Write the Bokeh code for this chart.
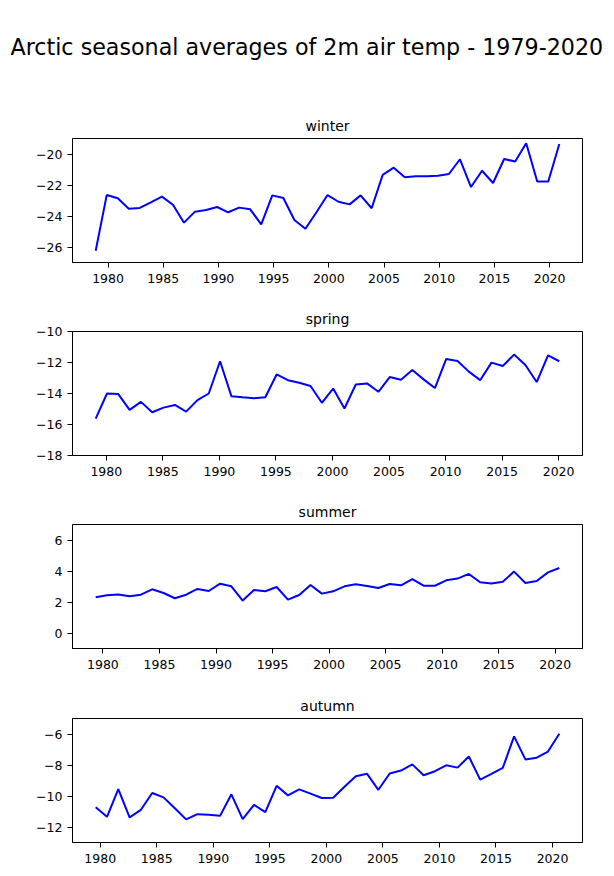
from bokeh.plotting import figure
from bokeh.layouts import column
from bokeh.models import Range1d, FixedTicker
from bokeh.embed import file_html
from bokeh.resources import INLINE

# ---------------- data ----------------
suptitle = "Arctic seasonal averages of 2m air temp - 1979-2020"
season_names = ["winter", "spring", "summer", "autumn"]

winter_years = list(range(1979, 2022))
spring_years = list(range(1979, 2021))
summer_years = list(range(1979, 2021))
autumn_years = list(range(1979, 2021))

# position of each seasonal mean within its year (fraction of year)
season_offsets = [-0.12, 0.06, 0.36, 0.6]

winter_vals = [-26.24, -22.65, -22.86, -23.53, -23.48, -23.12, -22.75, -23.27, -24.43, -23.72,
               -23.61, -23.42, -23.76, -23.46, -23.57, -24.54, -22.67, -22.84, -24.26, -24.82,
               -23.76, -22.65, -23.08, -23.25, -22.67, -23.50, -21.35, -20.88, -21.50, -21.44,
               -21.44, -21.40, -21.29, -20.34, -22.13, -21.08, -21.87, -20.32, -20.49, -19.31,
               -21.78, -21.78, -19.35]
spring_vals = [-15.62, -14.00, -14.04, -15.06, -14.54, -15.21, -14.91, -14.74, -15.17, -14.43,
               -14.00, -11.92, -14.17, -14.24, -14.30, -14.24, -12.77, -13.14, -13.31, -13.52,
               -14.60, -13.68, -14.97, -13.42, -13.35, -13.89, -12.94, -13.11, -12.49, -13.09,
               -13.65, -11.77, -11.90, -12.59, -13.14, -12.01, -12.23, -11.49, -12.16, -13.26,
               -11.54, -11.92]
summer_vals = [2.30, 2.43, 2.49, 2.37, 2.47, 2.82, 2.58, 2.24, 2.47, 2.84,
               2.71, 3.18, 3.01, 2.09, 2.77, 2.69, 2.97, 2.15, 2.45, 3.10,
               2.54, 2.69, 3.01, 3.14, 3.03, 2.90, 3.16, 3.08, 3.48, 3.05,
               3.05, 3.40, 3.51, 3.81, 3.27, 3.20, 3.31, 3.96, 3.23, 3.35,
               3.91, 4.19]
autumn_vals = [-10.72, -11.34, -9.55, -11.38, -10.89, -9.81, -10.09, -10.79, -11.51, -11.17,
               -11.21, -11.28, -9.89, -11.49, -10.57, -11.04, -9.34, -9.96, -9.57, -9.85,
               -10.13, -10.11, -9.40, -8.72, -8.57, -9.60, -8.55, -8.36, -7.96, -8.66,
               -8.40, -8.02, -8.17, -7.45, -8.94, -8.57, -8.19, -6.15, -7.64, -7.53,
               -7.13, -5.98]

x_ticks = [1980, 1985, 1990, 1995, 2000, 2005, 2010, 2015, 2020]
y_limits = [(-27, -19), (-18, -10), (-1, 7), (-13, -5)]
y_ticks = [[-26, -24, -22, -20], [-18, -16, -14, -12, -10], [0, 2, 4, 6], [-12, -10, -8, -6]]

years_all = [winter_years, spring_years, summer_years, autumn_years]
vals_all = [winter_vals, spring_vals, summer_vals, autumn_vals]

FONT = "DejaVu Sans"

def fmt(t):
    return ("\u2212" + str(abs(t))) if t < 0 else str(t)

# ---------------- figures ----------------
head = figure(width=614, height=72, toolbar_location=None, output_backend="svg",
              x_axis_location=None, y_axis_location=None,
              min_border_top=64, min_border_bottom=0, min_border_left=0, min_border_right=0)
head.outline_line_color = None
head.grid.visible = False
head.title.text = suptitle
head.title.align = "left"
head.title.offset = -62
head.title.text_font = FONT
head.title.text_font_size = "22.2px"
head.title.text_font_style = "normal"
head.title.text_color = "black"

tops = [66, 34, 34, 35]
bottoms = [35, 35, 35, 26]

figs = [head]
for i, name in enumerate(season_names):
    xs = [y + season_offsets[i] for y in years_all[i]]
    ys = vals_all[i]
    span = max(xs) - min(xs)
    xr = Range1d(min(xs) - 0.05 * span, max(xs) + 0.05 * span)
    p = figure(frame_width=510, frame_height=124, min_border_left=72, min_border_right=32,
               min_border_top=tops[i], min_border_bottom=bottoms[i],
               toolbar_location=None, output_backend="svg",
               x_range=xr, y_range=Range1d(*y_limits[i]))
    p.line(xs, ys, line_color="#0000ff", line_width=2)
    p.title.text = name
    p.title.align = "center"
    p.title.text_font = FONT
    p.title.text_font_size = "14px"
    p.title.text_font_style = "normal"
    p.title.text_color = "black"
    p.grid.visible = False
    p.outline_line_color = "black"
    p.outline_line_width = 1
    for ax in (p.xaxis[0], p.yaxis[0]):
        ax.axis_line_color = "black"
        ax.major_tick_line_color = "black"
        ax.major_tick_out = 5
        ax.major_tick_in = 0
        ax.minor_tick_line_color = None
        ax.major_label_text_font = FONT
        ax.major_label_text_font_size = "12.5px"
        ax.major_label_text_color = "black"
    p.xaxis[0].major_label_standoff = 6
    p.xaxis[0].ticker = FixedTicker(ticks=x_ticks)
    p.yaxis[0].ticker = FixedTicker(ticks=y_ticks[i])
    p.yaxis[0].major_label_overrides = {t: fmt(t) for t in y_ticks[i]}
    figs.append(p)

layout = column(*figs, spacing=0)
open("out.html", "w").write(file_html(layout, INLINE))
